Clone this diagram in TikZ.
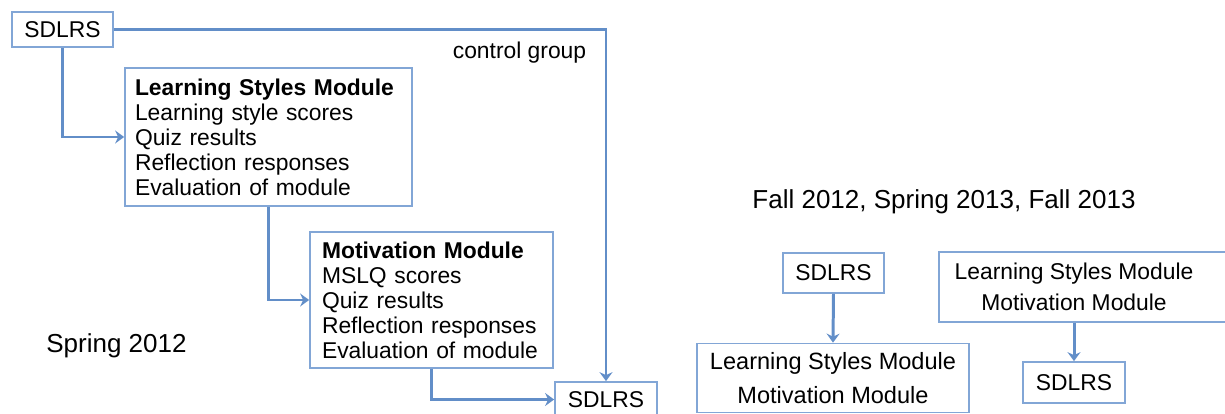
\documentclass[tikz,border=0pt]{standalone}
\usepackage{fontspec}
\setmainfont{Liberation Sans}
\usetikzlibrary{arrows.meta, positioning}

\definecolor{lineblue}{RGB}{98,142,200}
\definecolor{boxblue}{RGB}{130,166,214}

\tikzset{
  box/.style={draw=boxblue, line width=1pt, inner sep=0pt},
  listbox/.style={box, align=left, inner xsep=0.2cm},
  arr/.style={draw=lineblue, line width=1.7pt,
    -{Stealth[length=0.18cm, width=0.26cm, inset=0.06cm]}},
  twoline/.style={align=center, font=\fontsize{13}{17.5}\selectfont},
  period/.style={anchor=base, font=\fontsize{14.8}{17}\selectfont}
}

\begin{document}
\begin{tikzpicture}[x=0.02cm, y=-0.02cm,
    every node/.style={font=\fontsize{13}{14.2}\selectfont}]
  \useasboundingbox (0,0) rectangle (1225,413);
  \clip (0,0) rectangle (1225,413);

  % Spring 2012 design
  \node[box, minimum width=2.02cm, minimum height=0.7cm] (sdlrspre) at (62.5,29.5) {SDLRS};
  \node[listbox, text width=5.34cm, minimum height=2.76cm] (lsm) at (268.5,137)
    {\textbf{Learning Styles Module}\\ Learning style scores\\ Quiz results\\
     Reflection responses\\ Evaluation of module};
  \node[listbox, inner xsep=0.24cm, text width=4.38cm, minimum height=2.72cm] (motiv) at (431.5,300)
    {\textbf{Motivation Module}\\ MSLQ scores\\ Quiz results\\
     Reflection responses\\ Evaluation of module};
  \node[box, minimum width=2.04cm, minimum height=0.7cm] (sdlrspost) at (606,399.5) {SDLRS};
  \node[anchor=base] (ctrl) at (519.5,58) {control group};
  \node[period] (spring) at (116.5,352) {Spring 2012};

  \draw[arr] (sdlrspre.east) -| (sdlrspost.north);
  \draw[arr] (sdlrspre.south) |- (lsm.west);
  \draw[arr] (lsm.south) |- (motiv.west);
  \draw[arr] (motiv.south) |- (sdlrspost.west);

  % Fall 2012 -- Fall 2013 designs
  \node[period] (fall) at (944,208) {Fall 2012, Spring 2013, Fall 2013};
  \node[box, minimum width=2.02cm, minimum height=0.8cm] (sdlrsa) at (833.5,273) {SDLRS};
  \node[box, twoline, font=\fontsize{13.4}{19}\selectfont,
        minimum width=5.44cm, minimum height=1.38cm] (modsa) at (833,378)
    {Learning Styles Module\\ Motivation Module};
  \node[box, anchor=north west, minimum width=6cm, minimum height=1.4cm] (modsb) at (938,251) {};
  \node[twoline] (modsbtxt) at (1074,287) {Learning Styles Module\\ Motivation Module};
  \node[box, minimum width=2.04cm, minimum height=0.82cm] (sdlrsb) at (1074,382.5) {SDLRS};

  \draw[arr] (sdlrsa.south) -- (modsa.north);
  \draw[arr] (modsb.south -| sdlrsb.north) -- (sdlrsb.north);
\end{tikzpicture}
\end{document}
